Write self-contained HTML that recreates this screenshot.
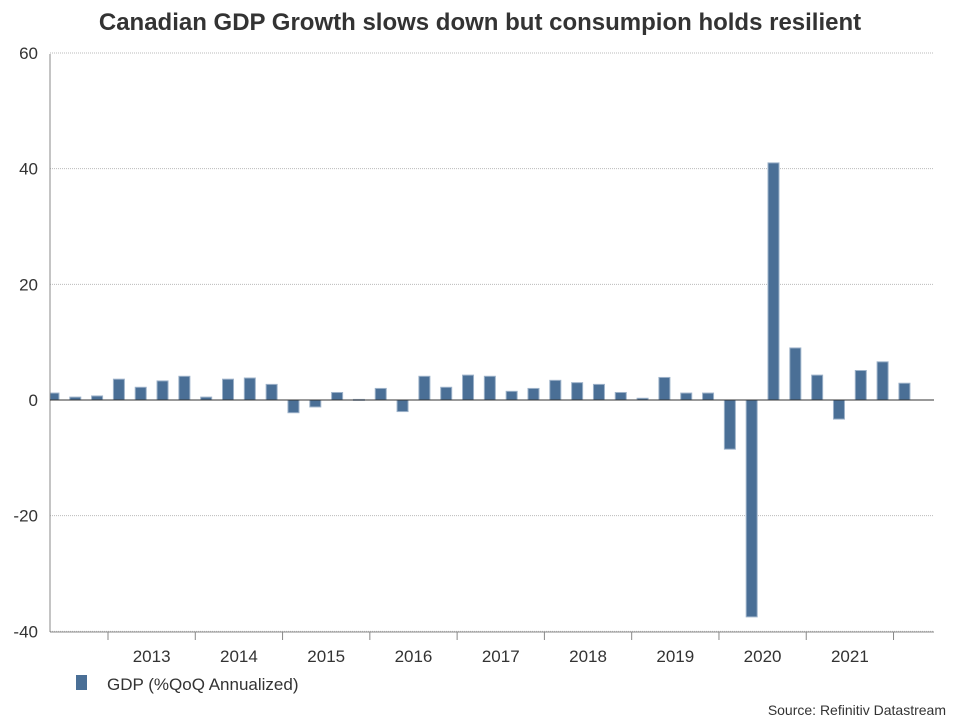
<!DOCTYPE html>
<html><head><meta charset="utf-8"><style>
body{margin:0;background:#fff;font-family:"Liberation Sans",sans-serif;}
</style></head><body>
<svg width="960" height="720" xmlns="http://www.w3.org/2000/svg">
<text x="480" y="30" text-anchor="middle" font-size="24" font-weight="bold" fill="#333">Canadian GDP Growth slows down but consumpion holds resilient</text>
<g id="grid"></g>
<g id="bars"></g>
<g id="axes"></g>
<rect x="76" y="675" width="11" height="15" fill="#4a6f96"/>
<text x="107" y="690" font-size="17" fill="#333">GDP (%QoQ Annualized)</text>
<text x="946" y="715" text-anchor="end" font-size="14" fill="#333">Source: Refinitiv Datastream</text>
</svg>
<script>
const values=[1.2,0.5,0.7,3.6,2.2,3.3,4.1,0.5,3.6,3.8,2.7,-2.2,-1.2,1.3,0.1,2.0,-2.0,4.1,2.2,4.3,4.1,1.5,2.0,3.4,3.0,2.7,1.3,0.3,3.9,1.2,1.2,-8.5,-37.5,41.0,9.0,4.3,-3.3,5.1,6.6,2.9];
const yTicks=[60,40,20,0,-20,-40];
const years=["2013","2014","2015","2016","2017","2018","2019","2020","2021"];
const NS="http://www.w3.org/2000/svg";
const y=v=>400-v*5.7833;
const slot=21.82;
const cx=i=>108-slot*(2.5-i);
const mk=(t,a,p)=>{const e=document.createElementNS(NS,t);for(const k in a)e.setAttribute(k,a[k]);document.getElementById(p).appendChild(e);return e;};
yTicks.forEach(v=>{
  if(v!==0){const l=mk('line',{x1:50,x2:934,y1:y(v),y2:y(v),stroke:'#bbb','stroke-dasharray':'1,1'},'grid');
  
  }
  const t=mk('text',{x:38,y:y(v)+6,'text-anchor':'end','font-size':17,fill:'#333'},'axes');t.textContent=v;
  
  
});
values.forEach((v,i)=>{
  let x0=cx(i)-5.5,x1=cx(i)+5.5;if(x0<50)x0=50;
  const r=mk('rect',{x:x0,width:x1-x0,y:Math.min(y(v),400),height:Math.max(Math.abs(y(v)-400),1),fill:'#4a6f96',stroke:'#9db2c9','stroke-width':1},'bars');
  
  
});
const a1=mk('line',{x1:50,x2:50,y1:54,y2:632,stroke:'#888'},'axes');


const a2=mk('line',{x1:50,x2:934,y1:400,y2:400,stroke:'#333'},'axes');


const a3=mk('line',{x1:50,x2:934,y1:632,y2:632,stroke:'#888'},'axes');


for(let k=0;k<=years.length;k++){
  const tx=108+slot*4*k;
  const tk=mk('line',{x1:tx,x2:tx,y1:632,y2:640,stroke:'#888'},'axes');
  
  
  if(k<years.length){const t=mk('text',{x:tx+slot*2,y:662,'text-anchor':'middle','font-size':17,fill:'#333'},'axes');t.textContent=years[k];
  
  }
}
</script>
</body></html>
